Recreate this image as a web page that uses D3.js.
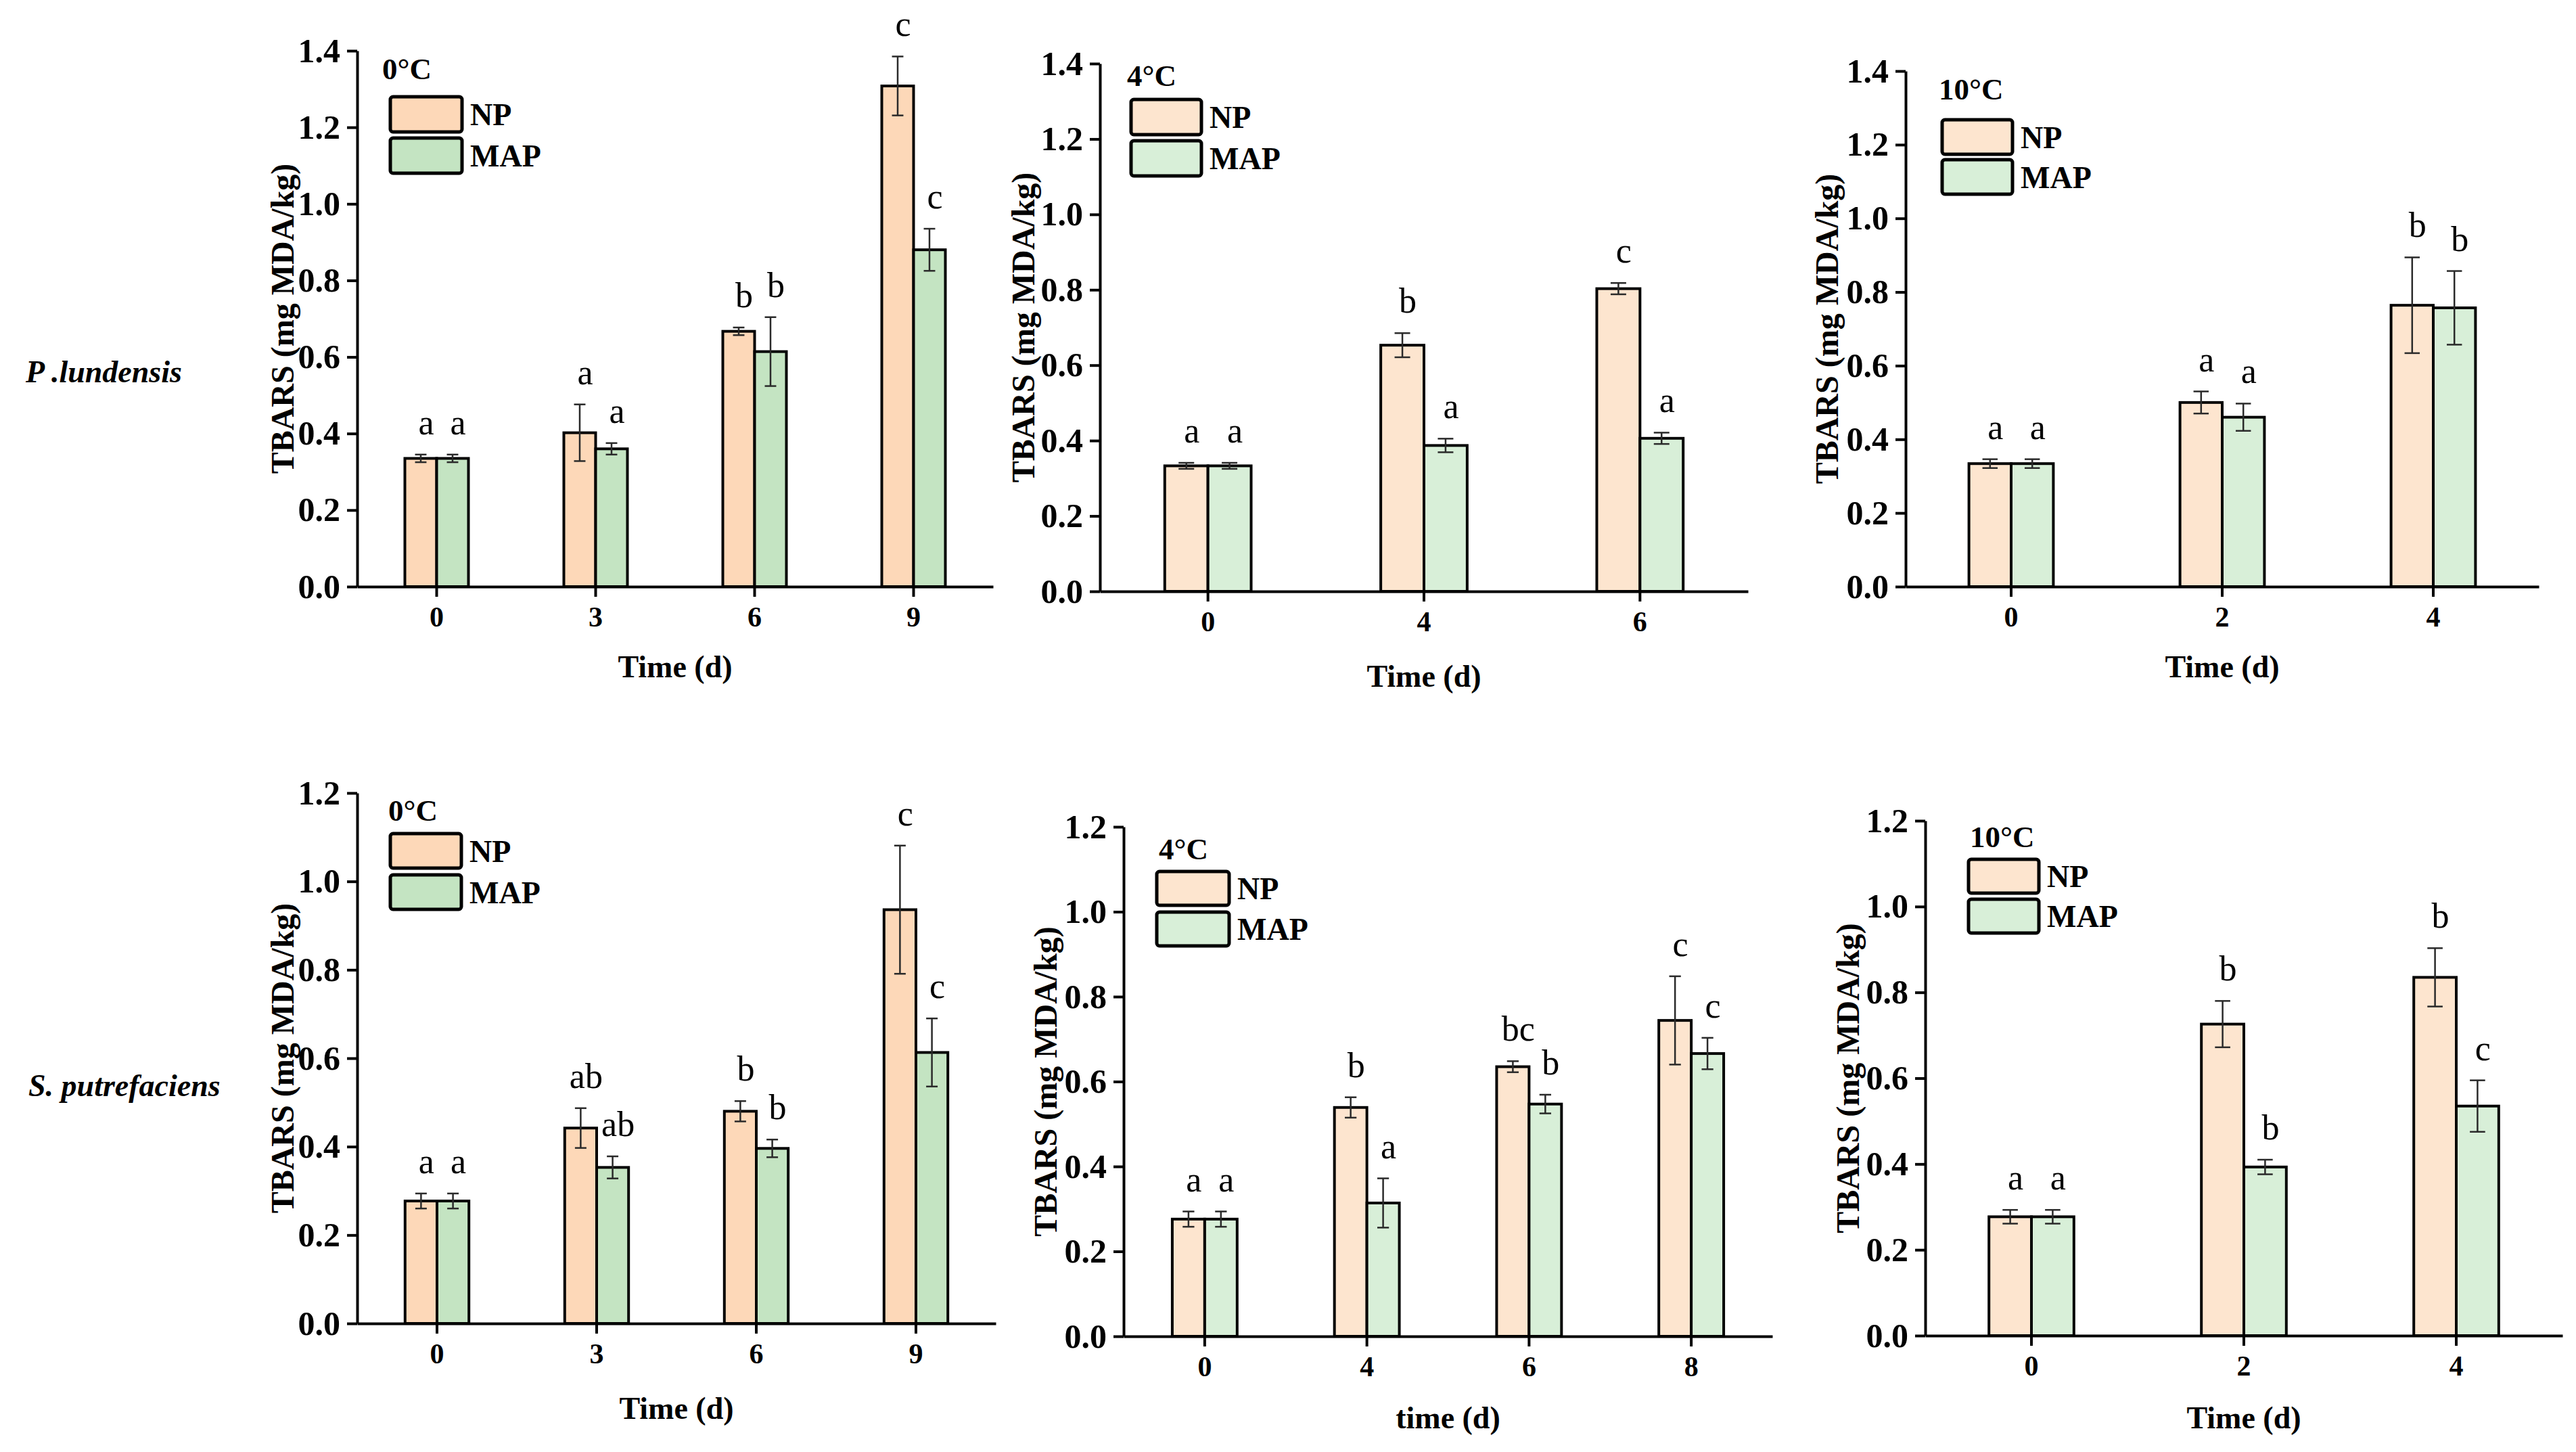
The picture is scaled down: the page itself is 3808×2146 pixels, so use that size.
<!DOCTYPE html>
<html lang="en">
<head>
<meta charset="UTF-8">
<title>TBARS of P. lundensis and S. putrefaciens</title>
<script src="https://d3js.org/d3.v7.min.js"></script>
<style>
    html, body { margin: 0; padding: 0; background: #fff; }
    svg { display: block; font-family: "Liberation Serif", "Times New Roman", serif; }
    .axis path, .axis line { stroke: #000; stroke-width: 4; }
    .axis text { font-weight: bold; fill: #000; }
</style>
</head>
<body>
<svg id="chart" width="3808" height="2146"></svg>
<script>
    // P. lundensis 0°C
    const plDays0 = ["0", "3", "6", "9"];
    const plNP0 = [0.335, 0.402, 0.667, 1.308];
    const plNPErr0 = [0.010, 0.074, 0.010, 0.077];
    const plMAP0 = [0.335, 0.360, 0.614, 0.880];
    const plMAPErr0 = [0.010, 0.015, 0.090, 0.055];
    const plNPLet0 = ["a", "a", "b", "c"];
    const plMAPLet0 = ["a", "a", "b", "c"];

    // P. lundensis 4°C
    const plDays4 = ["0", "4", "6"];
    const plNP4 = [0.333, 0.653, 0.803];
    const plNPErr4 = [0.008, 0.032, 0.015];
    const plMAP4 = [0.333, 0.387, 0.406];
    const plMAPErr4 = [0.008, 0.018, 0.015];
    const plNPLet4 = ["a", "b", "c"];
    const plMAPLet4 = ["a", "a", "a"];

    // P. lundensis 10°C
    const plDays10 = ["0", "2", "4"];
    const plNP10 = [0.334, 0.500, 0.764];
    const plNPErr10 = [0.012, 0.030, 0.130];
    const plMAP10 = [0.334, 0.460, 0.757];
    const plMAPErr10 = [0.012, 0.037, 0.100];
    const plNPLet10 = ["a", "a", "b"];
    const plMAPLet10 = ["a", "a", "b"];

    // S. putrefaciens 0°C
    const spDays0 = ["0", "3", "6", "9"];
    const spNP0 = [0.277, 0.442, 0.480, 0.936];
    const spNPErr0 = [0.017, 0.045, 0.023, 0.145];
    const spMAP0 = [0.277, 0.353, 0.396, 0.613];
    const spMAPErr0 = [0.017, 0.025, 0.020, 0.077];
    const spNPLet0 = ["a", "ab", "b", "c"];
    const spMAPLet0 = ["a", "ab", "b", "c"];

    // S. putrefaciens 4°C
    const spDays4 = ["0", "4", "6", "8"];
    const spNP4 = [0.276, 0.539, 0.635, 0.744];
    const spNPErr4 = [0.018, 0.024, 0.013, 0.104];
    const spMAP4 = [0.276, 0.314, 0.547, 0.666];
    const spMAPErr4 = [0.018, 0.058, 0.022, 0.037];
    const spNPLet4 = ["a", "b", "bc", "c"];
    const spMAPLet4 = ["a", "a", "b", "c"];

    // S. putrefaciens 10°C
    const spDays10 = ["0", "2", "4"];
    const spNP10 = [0.277, 0.726, 0.835];
    const spNPErr10 = [0.016, 0.054, 0.068];
    const spMAP10 = [0.277, 0.393, 0.535];
    const spMAPErr10 = [0.016, 0.017, 0.060];
    const spNPLet10 = ["a", "b", "b"];
    const spMAPLet10 = ["a", "b", "c"];

    const seriesNames = ["NP", "MAP"];
    const rowLabels = ["P .lundensis", "S. putrefaciens"];

    const palettes = [
        ["#fdd8b8", "#c4e4c2"],
        ["#fde5cf", "#d8efd8"]
    ];

    const panels = [
        { days: plDays0, vals: [plNP0, plMAP0], errs: [plNPErr0, plMAPErr0], lets: [plNPLet0, plMAPLet0],
          title: "0°C", xTitle: "Time (d)", yMax: 1.4, pal: 0,
          left: 528, right: 1468, bottom: 867, top: 75,
          titleX: 565, titleY: 117, legX: 577, legY: 143, legW: 106, legH: 52, legStep: 61,
          yLabX: 417, xLabY: 1001 },
        { days: plDays4, vals: [plNP4, plMAP4], errs: [plNPErr4, plMAPErr4], lets: [plNPLet4, plMAPLet4],
          title: "4°C", xTitle: "Time (d)", yMax: 1.4, pal: 1,
          left: 1626, right: 2584, bottom: 874, top: 94,
          titleX: 1666, titleY: 127, legX: 1672, legY: 147, legW: 104, legH: 52, legStep: 61,
          yLabX: 1512, xLabY: 1015 },
        { days: plDays10, vals: [plNP10, plMAP10], errs: [plNPErr10, plMAPErr10], lets: [plNPLet10, plMAPLet10],
          title: "10°C", xTitle: "Time (d)", yMax: 1.4, pal: 1,
          left: 2817, right: 3753, bottom: 867, top: 105,
          titleX: 2866, titleY: 147, legX: 2871, legY: 177, legW: 104, legH: 51, legStep: 59,
          yLabX: 2700, xLabY: 1001 },
        { days: spDays0, vals: [spNP0, spMAP0], errs: [spNPErr0, spMAPErr0], lets: [spNPLet0, spMAPLet0],
          title: "0°C", xTitle: "Time (d)", yMax: 1.2, pal: 0,
          left: 528, right: 1472, bottom: 1956, top: 1172,
          titleX: 574, titleY: 1213, legX: 577, legY: 1232, legW: 105, legH: 51, legStep: 61,
          yLabX: 417, xLabY: 2097 },
        { days: spDays4, vals: [spNP4, spMAP4], errs: [spNPErr4, spMAPErr4], lets: [spNPLet4, spMAPLet4],
          title: "4°C", xTitle: "time (d)", yMax: 1.2, pal: 1,
          left: 1661, right: 2620, bottom: 1975, top: 1222,
          titleX: 1713, titleY: 1270, legX: 1710, legY: 1288, legW: 107, legH: 50, legStep: 60,
          yLabX: 1545, xLabY: 2111 },
        { days: spDays10, vals: [spNP10, spMAP10], errs: [spNPErr10, spMAPErr10], lets: [spNPLet10, spMAPLet10],
          title: "10°C", xTitle: "Time (d)", yMax: 1.2, pal: 1,
          left: 2846, right: 3788, bottom: 1974, top: 1213,
          titleX: 2912, titleY: 1252, legX: 2910, legY: 1270, legW: 104, legH: 50, legStep: 59,
          yLabX: 2731, xLabY: 2111 }
    ];

    const svg = d3.select("#chart");

    function drawPanel(p) {
        const colors = palettes[p.pal];

        const x = d3.scaleBand()
            .domain(p.days)
            .range([p.left, p.right])
            .padding(0);

        const y = d3.scaleLinear()
            .domain([0, p.yMax])
            .range([p.bottom, p.top]);

        const inner = d3.scaleBand()
            .domain(seriesNames)
            .range([-0.2 * x.bandwidth(), 0.2 * x.bandwidth()])
            .padding(0);

        const g = svg.append("g");

        // bars
        seriesNames.forEach((s, si) => {
            g.selectAll(".bar-" + s)
                .data(p.days)
                .enter().append("rect")
                .attr("x", d => x(d) + x.bandwidth() / 2 + inner(s))
                .attr("y", (d, i) => y(p.vals[si][i]))
                .attr("width", inner.bandwidth())
                .attr("height", (d, i) => y(0) - y(p.vals[si][i]))
                .attr("fill", colors[si])
                .attr("stroke", "#000")
                .attr("stroke-width", 4);
        });

        // error bars
        const cap = inner.bandwidth() * 0.18;
        seriesNames.forEach((s, si) => {
            const cx = d => x(d) + x.bandwidth() / 2 + inner(s) + inner.bandwidth() / 2;
            const eb = g.selectAll(".err-" + s)
                .data(p.days)
                .enter().append("g")
                .attr("stroke", "#2a2a2a")
                .attr("stroke-width", 2.5);
            eb.append("line")
                .attr("x1", cx).attr("x2", cx)
                .attr("y1", (d, i) => y(p.vals[si][i] + p.errs[si][i]))
                .attr("y2", (d, i) => y(p.vals[si][i] - p.errs[si][i]));
            eb.append("line")
                .attr("x1", d => cx(d) - cap).attr("x2", d => cx(d) + cap)
                .attr("y1", (d, i) => y(p.vals[si][i] + p.errs[si][i]))
                .attr("y2", (d, i) => y(p.vals[si][i] + p.errs[si][i]));
            eb.append("line")
                .attr("x1", d => cx(d) - cap).attr("x2", d => cx(d) + cap)
                .attr("y1", (d, i) => y(p.vals[si][i] - p.errs[si][i]))
                .attr("y2", (d, i) => y(p.vals[si][i] - p.errs[si][i]));

            // significance letters
            g.selectAll(".let-" + s)
                .data(p.days)
                .enter().append("text")
                .attr("x", d => cx(d) + 8)
                .attr("y", (d, i) => y(p.vals[si][i] + p.errs[si][i]) - 30)
                .attr("text-anchor", "middle")
                .style("font-size", "52px")
                .text((d, i) => p.lets[si][i]);
        });

        // axes (drop d3's sans-serif default so the serif face is used)
        g.append("g")
            .attr("class", "axis")
            .attr("transform", "translate(" + p.left + ",0)")
            .call(d3.axisLeft(y).tickValues(d3.range(0, p.yMax + 0.01, 0.2))
                .tickFormat(d3.format(".1f")).tickSize(15).tickSizeOuter(0).tickPadding(10))
            .attr("font-family", null)
            .call(a => a.selectAll("text").style("font-size", "50px"));

        g.append("g")
            .attr("class", "axis")
            .attr("transform", "translate(0," + p.bottom + ")")
            .call(d3.axisBottom(x).tickSize(15).tickSizeOuter(0).tickPadding(14))
            .attr("font-family", null)
            .call(a => a.selectAll("text").style("font-size", "42px"));

        // axis titles
        g.append("text")
            .attr("transform", "translate(" + p.yLabX + "," + ((p.top + p.bottom) / 2) + ") rotate(-90)")
            .attr("dy", "0.35em")
            .attr("text-anchor", "middle")
            .style("font-size", "48px")
            .style("font-weight", "bold")
            .text("TBARS (mg MDA/kg)");

        g.append("text")
            .attr("x", (p.left + p.right) / 2)
            .attr("y", p.xLabY)
            .attr("text-anchor", "middle")
            .style("font-size", "46px")
            .style("font-weight", "bold")
            .text(p.xTitle);

        // temperature + legend
        g.append("text")
            .attr("x", p.titleX)
            .attr("y", p.titleY)
            .style("font-size", "45px")
            .style("font-weight", "bold")
            .text(p.title);

        const leg = g.selectAll(".legend")
            .data(seriesNames)
            .enter().append("g")
            .attr("transform", (d, i) => "translate(" + p.legX + "," + (p.legY + i * p.legStep) + ")");

        leg.append("rect")
            .attr("width", p.legW)
            .attr("height", p.legH)
            .attr("rx", 4)
            .attr("fill", (d, i) => colors[i])
            .attr("stroke", "#000")
            .attr("stroke-width", 5);

        leg.append("text")
            .attr("x", p.legW + 12)
            .attr("y", p.legH / 2 + 16)
            .style("font-size", "46px")
            .style("font-weight", "bold")
            .text(d => d);
    }

    panels.forEach(drawPanel);

    // row labels (bacteria)
    svg.selectAll(".row")
        .data(rowLabels)
        .enter().append("text")
        .attr("x", (d, i) => i === 0 ? 38 : 42)
        .attr("y", (d, i) => i === 0 ? 565 : 1620)
        .style("font-size", "46px")
        .style("font-weight", "bold")
        .style("font-style", "italic")
        .text(d => d);
</script>
</body>
</html>
